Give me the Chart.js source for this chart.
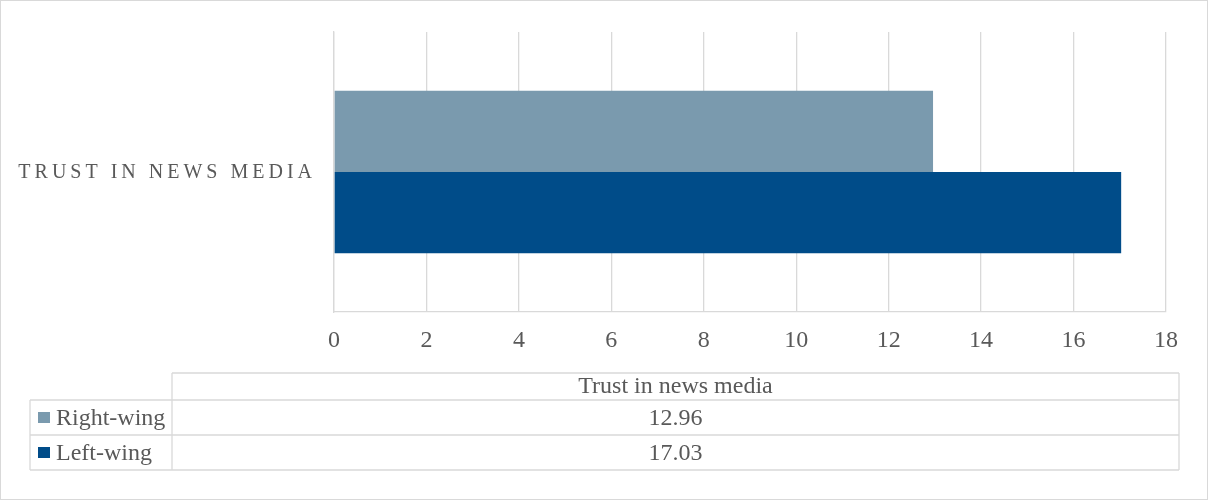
<!DOCTYPE html>
<html lang="en">
<head>
    <meta charset="UTF-8">
    <title>Trust in news media</title>
    <script src="https://cdn.jsdelivr.net/npm/chart.js"></script>
    <style>
        body { margin: 0; background: #fff; }
        #wrap { width: 1208px; height: 500px; box-sizing: border-box; border: 1px solid #d9d9d9; }
        canvas { display: block; }
    </style>
</head>
<body>
    <div id="wrap">
        <canvas id="trustChart" width="1206" height="498"></canvas>
    </div>

    <script>
        const categories = ['Trust in news media'];
        const seriesNames = ['Right-wing', 'Left-wing'];
        const rightWing = [12.96];
        const leftWing = [17.03];
        const seriesColors = ['#7a9aae', '#004c89'];
        const xMin = 0, xMax = 18, xStep = 2;

        const textColor = '#595959';
        const lineColor = '#d9d9d9';
        const fontFamily = '"Liberation Serif", "Times New Roman", serif';

        // category label (spaced caps) and the data table under the axis
        const tablePlugin = {
            id: 'dataTable',
            afterDraw(chart) {
                const ctx = chart.ctx;
                const yScale = chart.scales.y;
                ctx.save();

                ctx.fillStyle = textColor;
                ctx.font = '20px ' + fontFamily;
                ctx.letterSpacing = '4px';
                ctx.textAlign = 'right';
                ctx.textBaseline = 'alphabetic';
                categories.forEach((c, i) => {
                    ctx.fillText(c.toUpperCase(), yScale.right - 18, yScale.getPixelForTick(i) + 6);
                });
                ctx.letterSpacing = '0px';

                const left = 29, split = 171, right = 1178;
                const rows = [372, 399, 434, 469];
                ctx.strokeStyle = lineColor;
                ctx.lineWidth = 1.3;
                ctx.beginPath();
                ctx.moveTo(split, rows[0]); ctx.lineTo(right, rows[0]);
                for (let r = 1; r < rows.length; r++) {
                    ctx.moveTo(left, rows[r]); ctx.lineTo(right, rows[r]);
                }
                ctx.moveTo(split, rows[0]); ctx.lineTo(split, rows[3]);
                ctx.moveTo(right, rows[0]); ctx.lineTo(right, rows[3]);
                ctx.moveTo(left, rows[1]); ctx.lineTo(left, rows[3]);
                ctx.stroke();

                const mid = (split + right) / 2;
                ctx.font = '24px ' + fontFamily;
                ctx.textAlign = 'center';
                ctx.fillText(categories[0], mid, rows[1] - 7);

                chart.data.datasets.forEach((ds, i) => {
                    const base = rows[i + 2] - 10;
                    ctx.fillStyle = ds.backgroundColor;
                    ctx.fillRect(37, base - 13, 12, 11);
                    ctx.fillStyle = textColor;
                    ctx.textAlign = 'left';
                    ctx.fillText(ds.label, 55, base);
                    ctx.textAlign = 'center';
                    ctx.fillText(ds.data[0].toFixed(2), mid, base);
                });
                ctx.restore();
            }
        };

        const chart = new Chart(document.getElementById('trustChart'), {
            type: 'bar',
            data: {
                labels: categories,
                datasets: [
                    { label: seriesNames[0], data: rightWing, backgroundColor: seriesColors[0] },
                    { label: seriesNames[1], data: leftWing, backgroundColor: seriesColors[1] }
                ]
            },
            options: {
                indexAxis: 'y',
                responsive: false,
                animation: false,
                events: [],
                layout: { padding: { left: 0, right: 41, top: 31, bottom: 0 } },
                datasets: { bar: { categoryPercentage: 0.58, barPercentage: 1 } },
                plugins: { legend: { display: false }, tooltip: { enabled: false } },
                scales: {
                    x: {
                        min: xMin,
                        max: xMax,
                        ticks: {
                            stepSize: xStep,
                            color: textColor,
                            padding: 14,
                            font: { family: fontFamily, size: 24 }
                        },
                        grid: { color: lineColor, lineWidth: 1.3, drawTicks: false },
                        border: { display: true, color: lineColor, width: 1.3 },
                        afterFit(scale) { scale.height = 187; }
                    },
                    y: {
                        ticks: { display: false },
                        grid: { display: false, drawTicks: false },
                        border: { display: true, color: lineColor, width: 1.3 },
                        afterFit(scale) { scale.width = 333; }
                    }
                }
            },
            plugins: [tablePlugin]
        });
    </script>
</body>
</html>
